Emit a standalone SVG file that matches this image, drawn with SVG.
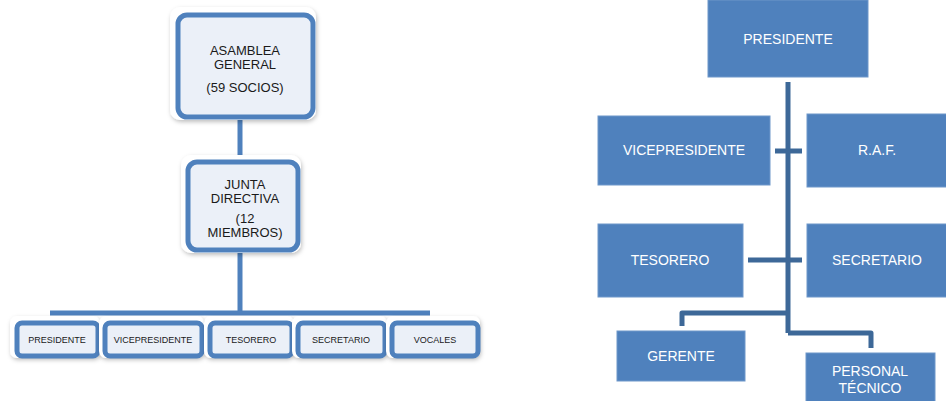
<svg xmlns="http://www.w3.org/2000/svg" width="946" height="401" viewBox="0 0 946 401">
<style>
.bg{fill:#fff;filter:url(#sh)}
.lb{fill:#EBF0F8;stroke:#4F81BD;stroke-width:5}
.t{font-family:"Liberation Sans",Arial,sans-serif;fill:#1a1a1a;text-anchor:middle}
.t1{font-size:13px}
.t2{font-size:9px}
.db{fill:#4F81BD;stroke:#6E97CA;stroke-width:1}
.w{font-family:"Liberation Sans",Arial,sans-serif;fill:#fff;text-anchor:middle;font-size:14px}
.c{fill:none;stroke:#4F81BD;stroke-width:5}
.c2{fill:none;stroke:#3D6898;stroke-width:5}
</style>
<defs>
<filter id="sh" x="-20%" y="-20%" width="140%" height="140%">
<feDropShadow dx="1" dy="2" stdDeviation="2" flood-color="#000" flood-opacity="0.25"/>
</filter>
</defs>
<rect width="946" height="401" fill="#fff"/>
<g id="connectors">
<path class="c" d="M240 117V162"/>
<path class="c" d="M240 250V313"/>
<path class="c" d="M50 313H430"/>
<path class="c2" d="M788 82V333"/>
<path class="c2" d="M775 151H802"/>
<path class="c2" d="M748 260H802"/>
<path class="c2" d="M788 313H682V326" stroke-linejoin="round"/>
<path class="c2" d="M788 333H871V348" stroke-linejoin="round"/>
</g>
<g id="asamblea">
<rect class="bg" x="170" y="7" width="146" height="113" rx="10"/>
<rect class="lb" x="178" y="15" width="135" height="102" rx="9"/>
<text class="t t1" x="245" y="55">ASAMBLEA</text>
<text class="t t1" x="245" y="69">GENERAL</text>
<text class="t t1" x="245" y="92">(59 SOCIOS)</text>
</g>
<g id="junta">
<rect class="bg" x="181" y="155" width="120" height="98" rx="10"/>
<rect class="lb" x="188" y="162" width="110" height="88" rx="9"/>
<text class="t t1" x="245" y="189">JUNTA</text>
<text class="t t1" x="245" y="203">DIRECTIVA</text>
<text class="t t1" x="245" y="223">(12</text>
<text class="t t1" x="245" y="237">MIEMBROS)</text>
</g>
<g id="l-presidente">
<rect class="bg" x="10" y="316" width="90" height="42" rx="7"/>
<rect class="lb" x="17" y="323" width="81" height="33" rx="5"/>
<text class="t t2" x="57" y="343">PRESIDENTE</text>
</g>
<g id="l-vicepresidente">
<rect class="bg" x="99" y="316" width="105" height="42" rx="7"/>
<rect class="lb" x="105" y="323" width="97" height="33" rx="5"/>
<text class="t t2" x="153" y="343">VICEPRESIDENTE</text>
</g>
<g id="l-tesorero">
<rect class="bg" x="204" y="316" width="90" height="42" rx="7"/>
<rect class="lb" x="210" y="323" width="82" height="33" rx="5"/>
<text class="t t2" x="251" y="343">TESORERO</text>
</g>
<g id="l-secretario">
<rect class="bg" x="292" y="316" width="95" height="42" rx="7"/>
<rect class="lb" x="298" y="323" width="87" height="33" rx="5"/>
<text class="t t2" x="341" y="343">SECRETARIO</text>
</g>
<g id="l-vocales">
<rect class="bg" x="386" y="316" width="94" height="42" rx="7"/>
<rect class="lb" x="392" y="323" width="86" height="33" rx="5"/>
<text class="t t2" x="435" y="343">VOCALES</text>
</g>
<g id="r-presidente">
<rect class="db" x="708" y="0" width="160" height="77"/>
<text class="w" x="788" y="44">PRESIDENTE</text>
</g>
<g id="r-vicepresidente">
<rect class="db" x="598" y="116" width="172" height="69"/>
<text class="w" x="684" y="155">VICEPRESIDENTE</text>
</g>
<g id="r-raf">
<rect class="db" x="807" y="114" width="140" height="73"/>
<text class="w" x="877" y="155">R.A.F.</text>
</g>
<g id="r-tesorero">
<rect class="db" x="598" y="224" width="145" height="73"/>
<text class="w" x="670" y="265">TESORERO</text>
</g>
<g id="r-secretario">
<rect class="db" x="807" y="224" width="140" height="73"/>
<text class="w" x="877" y="265">SECRETARIO</text>
</g>
<g id="r-gerente">
<rect class="db" x="617" y="331" width="128" height="50"/>
<text class="w" x="681" y="361">GERENTE</text>
</g>
<g id="r-personal">
<rect class="db" x="806" y="353" width="129" height="50"/>
<text class="w" x="870" y="376">PERSONAL</text>
<text class="w" x="870" y="393">TÉCNICO</text>
</g>
</svg>
